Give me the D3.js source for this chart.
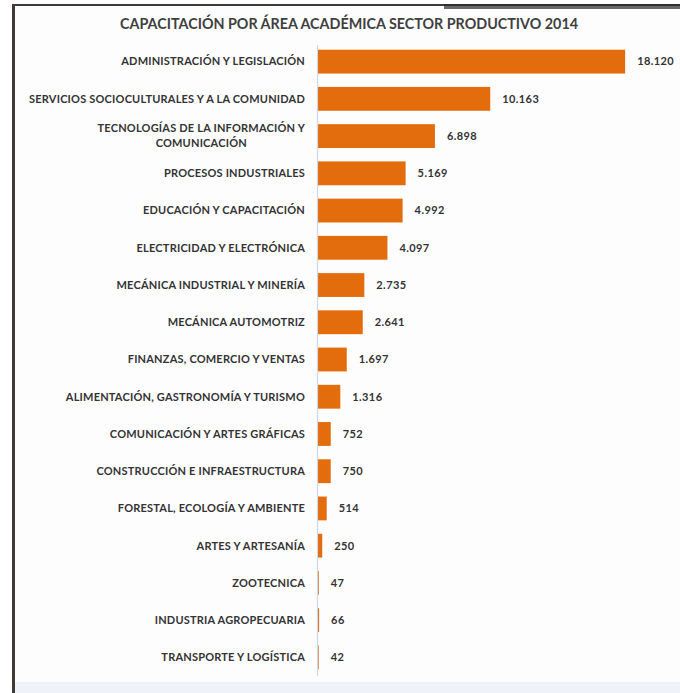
<!DOCTYPE html>
<html><head><meta charset="utf-8">
<script src="https://cdn.jsdelivr.net/npm/d3@7"></script>
<style>
html,body{margin:0;padding:0;background:#fff;}
svg{display:block;}
</style></head>
<body>
<svg id="chart" width="680" height="693"></svg>
<script>
const title = "CAPACITACIÓN POR ÁREA ACADÉMICA SECTOR PRODUCTIVO 2014";
const categories = [
  ["ADMINISTRACIÓN Y LEGISLACIÓN"],
  ["SERVICIOS SOCIOCULTURALES Y A LA COMUNIDAD"],
  ["TECNOLOGÍAS DE LA INFORMACIÓN Y", "COMUNICACIÓN"],
  ["PROCESOS INDUSTRIALES"],
  ["EDUCACIÓN Y CAPACITACIÓN"],
  ["ELECTRICIDAD Y ELECTRÓNICA"],
  ["MECÁNICA INDUSTRIAL Y MINERÍA"],
  ["MECÁNICA AUTOMOTRIZ"],
  ["FINANZAS, COMERCIO Y VENTAS"],
  ["ALIMENTACIÓN, GASTRONOMÍA Y TURISMO"],
  ["COMUNICACIÓN Y ARTES GRÁFICAS"],
  ["CONSTRUCCIÓN E INFRAESTRUCTURA"],
  ["FORESTAL, ECOLOGÍA Y AMBIENTE"],
  ["ARTES Y ARTESANÍA"],
  ["ZOOTECNICA"],
  ["INDUSTRIA AGROPECUARIA"],
  ["TRANSPORTE Y LOGÍSTICA"]
];
const values = [18120, 10163, 6898, 5169, 4992, 4097, 2735, 2641, 1697, 1316, 752, 750, 514, 250, 47, 66, 42];

const svg = d3.select("#chart");
const W = 680, H = 693;

// background panel
svg.append("rect").attr("x", 0).attr("y", 0).attr("width", W).attr("height", H).attr("fill", "#ffffff");
svg.append("rect").attr("x", 15).attr("y", 6).attr("width", W - 15).attr("height", H - 6).attr("fill", "#fdfdfe");
svg.append("rect").attr("x", 15).attr("y", 682).attr("width", W - 15).attr("height", 11).attr("fill", "#eff3f9");
// frame lines
svg.append("rect").attr("x", 12).attr("y", 4).attr("width", 3).attr("height", H - 4).attr("fill", "#3e3a36");
svg.append("rect").attr("x", 12).attr("y", 4).attr("width", 432).attr("height", 2).attr("fill", "#3e3a36");
svg.append("rect").attr("x", 444).attr("y", 4).attr("width", W - 444).attr("height", 2).attr("fill", "#2e2e2e");
svg.append("rect").attr("x", 444).attr("y", 6).attr("width", W - 444).attr("height", 3).attr("fill", "#6a6a6a");

const idx = d3.range(values.length);
const y = d3.scaleBand().domain(idx).range([43, 676]).paddingInner(0.36).paddingOuter(0.18);
const x = d3.scaleLinear().domain([0, 20000]).range([318, 657]);
const fmt = d3.formatLocale({decimal: ",", thousands: ".", grouping: [3], currency: ["$", ""]}).format(",d");

// title
svg.append("text")
  .attr("x", 349).attr("y", 29)
  .attr("text-anchor", "middle")
  .attr("font-family", "Lato, 'Open Sans', sans-serif")
  .attr("font-weight", 700)
  .attr("font-size", 15)
  .attr("fill", "#3f3f3f")
  .attr("textLength", 458).attr("lengthAdjust", "spacingAndGlyphs")
  .text(title);

// bars
svg.append("g").selectAll("rect").data(idx).join("rect")
  .attr("x", x(0))
  .attr("y", i => y(i))
  .attr("width", i => x(values[i]) - x(0))
  .attr("height", y.bandwidth())
  .attr("fill", "#e36c0c");

// axis line
svg.append("line").attr("x1", 317.5).attr("x2", 317.5).attr("y1", 45).attr("y2", 676)
  .attr("stroke", "#cdd8e8").attr("stroke-width", 1.2);

// category labels
const labG = svg.append("g")
  .attr("font-family", "Lato, 'Open Sans', sans-serif")
  .attr("font-weight", 700)
  .attr("font-size", 11)
  .attr("letter-spacing", 0.2)
  .attr("fill", "#333333");
idx.forEach(i => {
  const lines = categories[i];
  const cy = y(i) + y.bandwidth() / 2;
  if (lines.length === 1) {
    labG.append("text").attr("x", 305).attr("y", cy).attr("dy", "0.35em")
      .attr("text-anchor", "end").text(lines[0]);
  } else {
    const t1 = labG.append("text").attr("x", 305).attr("y", cy - 7.5).attr("dy", "0.35em")
      .attr("text-anchor", "end").text(lines[0]);
    const w1 = t1.node().getComputedTextLength();
    labG.append("text").attr("x", 305 - w1 / 2).attr("y", cy + 7.5).attr("dy", "0.35em")
      .attr("text-anchor", "middle").text(lines[1]);
  }
});

// value labels
svg.append("g")
  .attr("font-family", "Lato, 'Open Sans', sans-serif")
  .attr("font-weight", 700)
  .attr("font-size", 11)
  .attr("letter-spacing", 0.4)
  .attr("fill", "#333333")
  .selectAll("text").data(idx).join("text")
  .attr("x", i => x(values[i]) + 12)
  .attr("y", i => y(i) + y.bandwidth() / 2)
  .attr("dy", "0.35em")
  .text(i => fmt(values[i]));
</script>
</body></html>
